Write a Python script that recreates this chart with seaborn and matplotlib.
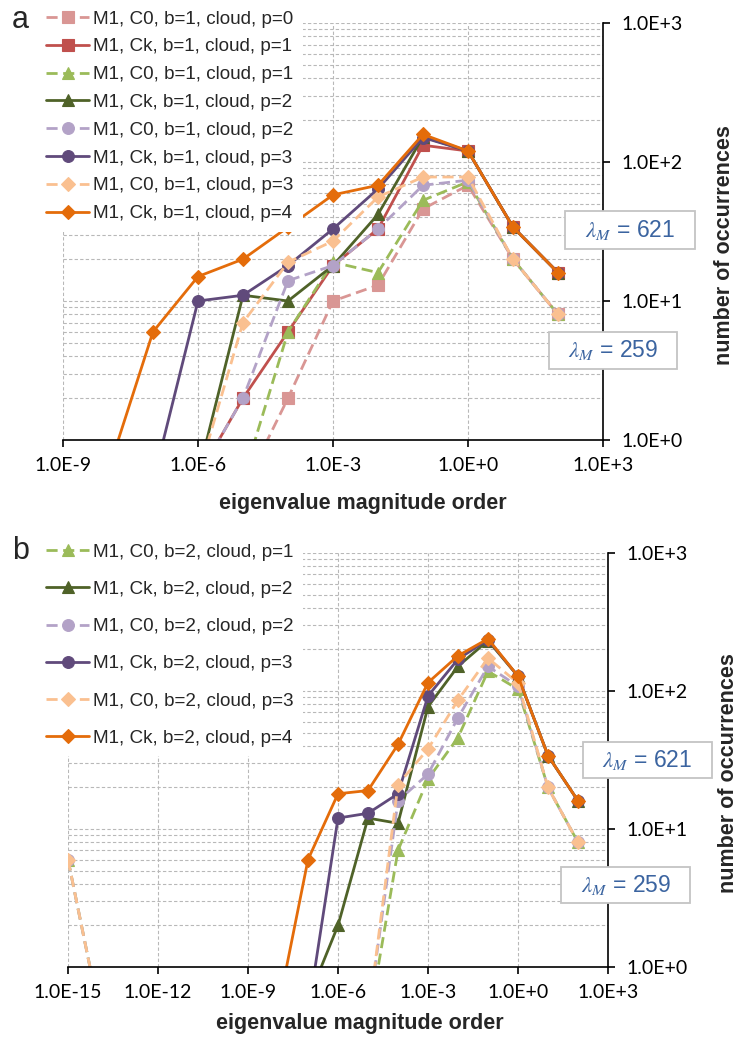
import numpy as np
import pandas as pd
import matplotlib
matplotlib.use("Agg")
import matplotlib.pyplot as plt
import seaborn as sns
from matplotlib.ticker import FixedLocator, NullLocator, LogLocator, FuncFormatter, NullFormatter
from matplotlib.patches import Rectangle

# ---------------------------------------------------------------- data, b=1
A_P0_C0_X = [1e-5, 1e-4, 1e-3, 1e-2, 1e-1, 1e0, 1e1, 1e2]
A_P0_C0_Y = [0.44, 2, 10, 13, 46, 68, 20, 8]
A_P1_CK_X = [1e-6, 1e-5, 1e-4, 1e-3, 1e-2, 1e-1, 1e0, 1e1, 1e2]
A_P1_CK_Y = [0.55, 2, 6, 18, 33, 132, 120, 34, 16]
A_P1_C0_X = [1e-5, 1e-4, 1e-3, 1e-2, 1e-1, 1e0, 1e1, 1e2]
A_P1_C0_Y = [0.52, 6, 19, 16, 53, 72, 20, 8]
A_P2_CK_X = [1e-6, 1e-5, 1e-4, 1e-3, 1e-2, 1e-1, 1e0, 1e1, 1e2]
A_P2_CK_Y = [0.56, 11, 10, 18, 42, 152, 120, 34, 16]
A_P2_C0_X = [1e-6, 1e-5, 1e-4, 1e-3, 1e-2, 1e-1, 1e0, 1e1, 1e2]
A_P2_C0_Y = [0.55, 2, 14, 18, 33, 68, 74, 20, 8]
A_P3_CK_X = [1e-7, 1e-6, 1e-5, 1e-4, 1e-3, 1e-2, 1e-1, 1e0, 1e1, 1e2]
A_P3_CK_Y = [0.5, 10, 11, 18, 33, 64, 150, 120, 34, 16]
A_P3_C0_X = [1e-6, 1e-5, 1e-4, 1e-3, 1e-2, 1e-1, 1e0, 1e1, 1e2]
A_P3_C0_Y = [0.55, 7, 19, 27, 56, 78, 78, 20, 8]
A_P4_CK_X = [1e-8, 1e-7, 1e-6, 1e-5, 1e-4, 1e-3, 1e-2, 1e-1, 1e0, 1e1, 1e2]
A_P4_CK_Y = [0.59, 6, 15, 20, 34, 58, 68, 158, 120, 34, 16]

A_LABELS = [
    "M1, C0, b=1, cloud, p=0",
    "M1, Ck, b=1, cloud, p=1",
    "M1, C0, b=1, cloud, p=1",
    "M1, Ck, b=1, cloud, p=2",
    "M1, C0, b=1, cloud, p=2",
    "M1, Ck, b=1, cloud, p=3",
    "M1, C0, b=1, cloud, p=3",
    "M1, Ck, b=1, cloud, p=4",
]

# ---------------------------------------------------------------- data, b=2
B_P1_C0_X = [1e-15, 1e-14, 1e-5, 1e-4, 1e-3, 1e-2, 1e-1, 1e0, 1e1, 1e2]
B_P1_C0_Y = [6, 0.52, 0.37, 7, 23, 46, 139, 103, 20, 8]
B_P2_CK_X = [1e-7, 1e-6, 1e-5, 1e-4, 1e-3, 1e-2, 1e-1, 1e0, 1e1, 1e2]
B_P2_CK_Y = [0.58, 2, 12, 11, 77, 151, 232, 128, 34, 16]
B_P2_C0_X = [1e-15, 1e-14, 1e-5, 1e-4, 1e-3, 1e-2, 1e-1, 1e0, 1e1, 1e2]
B_P2_C0_Y = [6, 0.52, 0.43, 16, 25, 64, 151, 108, 20, 8]
B_P3_CK_X = [1e-7, 1e-6, 1e-5, 1e-4, 1e-3, 1e-2, 1e-1, 1e0, 1e1, 1e2]
B_P3_CK_Y = [0.46, 12, 13, 18, 92, 170, 236, 128, 34, 16]
B_P3_C0_X = [1e-15, 1e-14, 1e-5, 1e-4, 1e-3, 1e-2, 1e-1, 1e0, 1e1, 1e2]
B_P3_C0_Y = [6, 0.52, 0.42, 21, 38, 86, 173, 114, 20, 8]
B_P4_CK_X = [1e-8, 1e-7, 1e-6, 1e-5, 1e-4, 1e-3, 1e-2, 1e-1, 1e0, 1e1, 1e2]
B_P4_CK_Y = [0.49, 6, 18, 19, 41, 115, 180, 239, 128, 34, 16]

B_LABELS = [
    "M1, C0, b=2, cloud, p=1",
    "M1, Ck, b=2, cloud, p=2",
    "M1, C0, b=2, cloud, p=2",
    "M1, Ck, b=2, cloud, p=3",
    "M1, C0, b=2, cloud, p=3",
    "M1, Ck, b=2, cloud, p=4",
]

A_XTICKS = [1e-9, 1e-6, 1e-3, 1e0, 1e3]
B_XTICKS = [1e-15, 1e-12, 1e-9, 1e-6, 1e-3, 1e0, 1e3]
YTICKS = [1e0, 1e1, 1e2, 1e3]
LAMBDA_VALUES = [621, 259]

# ---------------------------------------------------------------- styles
STYLE = {
    "p0_c0": dict(color="#d99694", marker="s", dashed=True),
    "p1_ck": dict(color="#c0504d", marker="s", dashed=False),
    "p1_c0": dict(color="#9bbb59", marker="^", dashed=True),
    "p2_ck": dict(color="#4f6228", marker="^", dashed=False),
    "p2_c0": dict(color="#b3a2c7", marker="o", dashed=True),
    "p3_ck": dict(color="#604a7b", marker="o", dashed=False),
    "p3_c0": dict(color="#fac090", marker="D", dashed=True),
    "p4_ck": dict(color="#e46c0a", marker="D", dashed=False),
}
MSIZE = {"s": 8.0, "^": 9.0, "o": 8.5, "D": 7.5}

sns.set_theme(style="white")
plt.rcParams["font.family"] = ["Liberation Sans", "DejaVu Sans"]
plt.rcParams["mathtext.fontset"] = "stix"

FW, FH = 739, 1040
fig = plt.figure(figsize=(FW / 100, FH / 100), dpi=100)


def fx(px):
    return px / FW


def fy(py):
    return 1 - py / FH


GRID_KW = dict(color="#b8b8b8", linestyle=(0, (3, 2)), linewidth=0.8)


def sci_label(v, _pos):
    e = int(round(np.log10(v)))
    return f"1.0E{e:+d}" if e >= 0 else f"1.0E{e:d}"


def draw_series(ax, x, y, key, label):
    st = STYLE[key]
    df = pd.DataFrame({"x": x, "y": y})
    sns.lineplot(
        data=df, x="x", y="y", ax=ax, color=st["color"], label=label,
        marker=st["marker"], markersize=MSIZE[st["marker"]],
        markeredgecolor=st["color"], markerfacecolor=st["color"],
        markeredgewidth=0.8, linewidth=2.0,
        linestyle=(0, (4, 2)) if st["dashed"] else "-",
        estimator=None, sort=False, errorbar=None, clip_on=True,
    )


def style_axes(ax, xlim, xticks, xlabel_pos, ylabel_pos):
    ax.set_xscale("log")
    ax.set_yscale("log")
    ax.set_xlim(*xlim)
    ax.set_ylim(1, 1000)
    ax.xaxis.set_major_locator(FixedLocator(xticks))
    ax.xaxis.set_minor_locator(NullLocator())
    ax.xaxis.set_major_formatter(FuncFormatter(sci_label))
    ax.yaxis.set_major_locator(FixedLocator(YTICKS))
    ax.yaxis.set_minor_locator(LogLocator(base=10, subs=np.arange(2, 10)))
    ax.yaxis.set_major_formatter(FuncFormatter(sci_label))
    ax.yaxis.set_minor_formatter(NullFormatter())
    ax.yaxis.tick_right()
    ax.yaxis.set_label_position("right")
    for s in ("left", "top"):
        ax.spines[s].set_visible(False)
    for s in ("right", "bottom"):
        ax.spines[s].set_visible(True)
        ax.spines[s].set_color("black")
        ax.spines[s].set_linewidth(1.2)
    ax.tick_params(axis="both", which="major", direction="out", length=5, width=1.2,
                   color="black", labelsize=14, labelcolor="black")
    ax.tick_params(axis="x", which="major", pad=7, bottom=True)
    ax.tick_params(axis="y", which="major", pad=8, right=True, left=False)
    ax.tick_params(axis="y", which="minor", length=0)
    for lab in ax.get_xticklabels() + ax.get_yticklabels():
        lab.set_family(["Lato", "DejaVu Sans"])
    ax.grid(True, which="major", axis="x", **GRID_KW)
    ax.grid(True, which="both", axis="y", **GRID_KW)
    ax.set_axisbelow(True)
    ax.set_xlabel("eigenvalue magnitude order", fontsize=15.5, fontweight="bold")
    ax.set_ylabel("number of occurrences", fontsize=15.5, fontweight="bold",
                  rotation=90)
    ax.xaxis.set_label_coords(*xlabel_pos)
    ax.xaxis.label.set_va("center")
    ax.yaxis.set_label_coords(*ylabel_pos)
    ax.yaxis.label.set_va("center")
    ax.set_facecolor("white")


def lambda_box(x0, y0, x1, y1, value):
    rect = Rectangle((fx(x0), fy(y1)), fx(x1) - fx(x0), fy(y0) - fy(y1),
                     transform=fig.transFigure, facecolor="white",
                     edgecolor="#c4c4c4", linewidth=1.3, zorder=10)
    fig.add_artist(rect)
    fig.text(fx((x0 + x1) / 2), fy((y0 + y1) / 2), rf"$\lambda_{{M}}$ = {value}",
             ha="center", va="center", fontsize=16.5, color="#3b64a0", zorder=11)


LEG_KW = dict(loc="upper left", frameon=True, facecolor="white", edgecolor="none",
              framealpha=1, fontsize=13.6, handlelength=2.25, handletextpad=0.2,
              borderpad=0.5, borderaxespad=0, fancybox=False)

# ---------------------------------------------------------------- panel a
ax_a = fig.add_axes([fx(63), fy(440), fx(603) - fx(63), fy(23) - fy(440)])
a_series = [
    (A_P0_C0_X, A_P0_C0_Y, "p0_c0"),
    (A_P1_CK_X, A_P1_CK_Y, "p1_ck"),
    (A_P1_C0_X, A_P1_C0_Y, "p1_c0"),
    (A_P2_CK_X, A_P2_CK_Y, "p2_ck"),
    (A_P2_C0_X, A_P2_C0_Y, "p2_c0"),
    (A_P3_CK_X, A_P3_CK_Y, "p3_ck"),
    (A_P3_C0_X, A_P3_C0_Y, "p3_c0"),
    (A_P4_CK_X, A_P4_CK_Y, "p4_ck"),
]
for (x, y, key), lab in zip(a_series, A_LABELS):
    draw_series(ax_a, x, y, key, lab)
style_axes(ax_a, (1e-9, 1e3), A_XTICKS,
           ((363 - 63) / 540, (440 - 503) / 417),
           ((725 - 63) / 540, (440 - 245) / 417))
leg_a = ax_a.legend(bbox_to_anchor=(fx(37), fy(1)), bbox_transform=fig.transFigure,
                    labelspacing=0.56, **LEG_KW)
leg_a.set_zorder(6)
fig.text(fx(12), fy(28), "a", fontsize=22, ha="left", va="baseline")

# ---------------------------------------------------------------- panel b
ax_b = fig.add_axes([fx(68), fy(967), fx(608) - fx(68), fy(553) - fy(967)])
b_series = [
    (B_P1_C0_X, B_P1_C0_Y, "p1_c0"),
    (B_P2_CK_X, B_P2_CK_Y, "p2_ck"),
    (B_P2_C0_X, B_P2_C0_Y, "p2_c0"),
    (B_P3_CK_X, B_P3_CK_Y, "p3_ck"),
    (B_P3_C0_X, B_P3_C0_Y, "p3_c0"),
    (B_P4_CK_X, B_P4_CK_Y, "p4_ck"),
]
for (x, y, key), lab in zip(b_series, B_LABELS):
    draw_series(ax_b, x, y, key, lab)
style_axes(ax_b, (1e-15, 1e3), B_XTICKS,
           ((360 - 68) / 540, (967 - 1023) / 414),
           ((728 - 68) / 540, (967 - 773) / 414))
leg_b = ax_b.legend(bbox_to_anchor=(fx(37), fy(534)), bbox_transform=fig.transFigure,
                    labelspacing=1.06, **LEG_KW)
leg_b.set_zorder(6)
fig.text(fx(12), fy(559), "b", fontsize=22, ha="left", va="baseline")

# ---------------------------------------------------------------- lambda_M boxes
lambda_box(565, 211, 695, 249, LAMBDA_VALUES[0])
lambda_box(549, 332, 677, 369, LAMBDA_VALUES[1])
lambda_box(583, 742, 712, 778, LAMBDA_VALUES[0])
lambda_box(561, 867, 690, 903, LAMBDA_VALUES[1])

fig.savefig("out.png", dpi=100, facecolor="white")
